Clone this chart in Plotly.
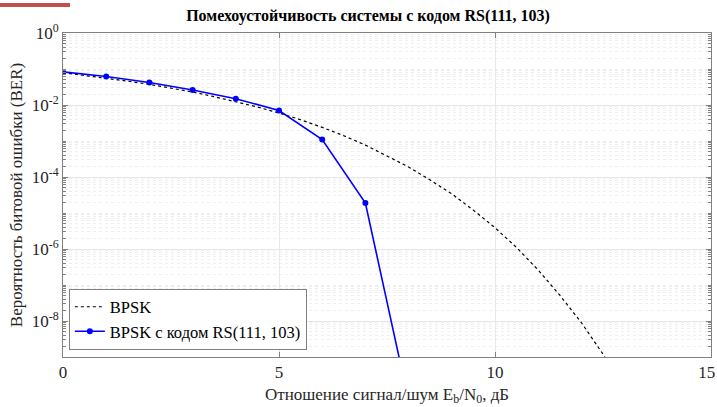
import plotly.graph_objects as go

# BPSK theoretical curve, Eb/N0 in dB
bpsk_x = [0, 0.5, 1, 1.5, 2, 2.5, 3, 3.5, 4, 4.5, 5, 5.5, 6, 6.5, 7, 7.5, 8, 8.5,
          9, 9.5, 10, 10.5, 11, 11.5, 12, 12.5, 13]
bpsk_y = [7.9e-2, 6.7e-2, 5.6e-2, 4.6e-2, 3.75e-2, 3.0e-2, 2.3e-2, 1.7e-2, 1.25e-2,
          8.8e-3, 6.0e-3, 3.9e-3, 2.4e-3, 1.4e-3, 7.7e-4, 3.9e-4, 1.9e-4, 8.2e-5,
          3.4e-5, 1.2e-5, 3.9e-6, 1.1e-6, 2.6e-7, 5.2e-8, 9.0e-9, 1.2e-9, 1.3e-10]

# BPSK with RS(111, 103) code
rs_x = [0, 1, 2, 3, 4, 5, 6, 7, 8]
rs_y = [8.3e-2, 6.2e-2, 4.2e-2, 2.6e-2, 1.5e-2, 7.0e-3, 1.1e-3, 1.9e-5, 6e-11]

y_tickvals = [1e0, 1e-2, 1e-4, 1e-6, 1e-8]
y_ticktext = ["10<sup>0</sup>", "10<sup>-2</sup>", "10<sup>-4</sup>", "10<sup>-6</sup>", "10<sup>-8</sup>"]
x_tickvals = [0, 5, 10, 15]
x_ticktext = ["0", "5", "10", "15\u00a0\u00a0"]

FONT = "Liberation Serif"

fig = go.Figure()
fig.add_trace(go.Scatter(
    x=bpsk_x, y=bpsk_y, mode="lines", name="BPSK",
    line=dict(color="black", width=1.2, dash="3px,3px"),
))
fig.add_trace(go.Scatter(
    x=rs_x, y=rs_y, mode="lines+markers", name="BPSK с кодом RS(111, 103)",
    line=dict(color="#0000ff", width=1.6),
    marker=dict(color="#0000ff", size=6),
))

fig.update_layout(
    width=717, height=407,
    margin=dict(l=63, r=6, t=33, b=50, autoexpand=False),
    paper_bgcolor="white", plot_bgcolor="white",
    font=dict(family=FONT, size=15, color="#262626"),
    title=dict(text="<b>Помехоустойчивость системы с кодом RS(111, 103)</b>",
               x=368/717, xanchor="center", y=1 - 15/407, yanchor="middle",
               font=dict(family=FONT, size=16, color="black")),
    legend=dict(x=0.009, y=0.023, xanchor="left", yanchor="bottom",
                bgcolor="white", bordercolor="#808080", borderwidth=1,
                font=dict(family=FONT, size=16.5, color="black"),
                tracegroupgap=0, itemwidth=30),
    showlegend=True,
    shapes=[dict(type="rect", xref="paper", yref="paper",
                 x0=-63/648, x1=7/648, y0=1 + 26/324, y1=1 + 30/324,
                 fillcolor="#c0504d", line=dict(width=0))],
)

fig.update_xaxes(
    range=[0, 15], tickvals=x_tickvals, ticktext=x_ticktext,
    ticks="inside", ticklen=5,
    showline=True, linecolor="#808080", linewidth=1, mirror="ticks",
    tickcolor="#808080", showgrid=True, gridcolor="#e8e8e8", gridwidth=1,
    zeroline=False, tickfont=dict(family=FONT, size=17, color="#262626"),
    ticklabeloverflow="allow",
    title=dict(text="Отношение сигнал/шум E<sub>b</sub>/N<sub>0</sub>, дБ",
               font=dict(family=FONT, size=17, color="#262626"), standoff=6),
)
fig.update_yaxes(
    type="log", range=[-9, 0], tickvals=y_tickvals, ticktext=y_ticktext,
    ticks="inside", ticklen=5,
    showline=True, linecolor="#808080", linewidth=1, mirror="ticks",
    tickcolor="#808080", showgrid=True, gridcolor="#e8e8e8", gridwidth=1,
    zeroline=False, tickfont=dict(family=FONT, size=17, color="#262626"),
    minor=dict(dtick="D1", showgrid=True, gridcolor="#efefef", griddash="dot",
               ticks="inside", ticklen=3, tickcolor="#808080"),
    title=dict(text="Вероятность битовой ошибки (BER)",
               font=dict(family=FONT, size=17, color="#262626"), standoff=4),
)

fig.write_html("out.html", config={"displayModeBar": False},
               post_script="document.body.style.margin='0';")
